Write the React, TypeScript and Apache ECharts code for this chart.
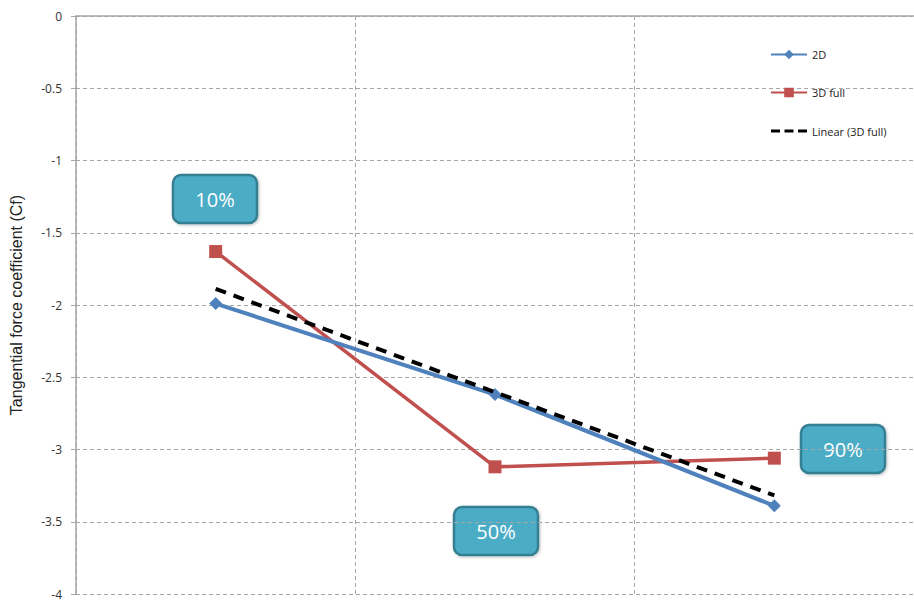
import React, { useEffect, useRef } from "react";
import * as echarts from "echarts";

// Chord positions along the blade (category axis)
const categories = ["10%", "50%", "90%"];
// Tangential force coefficient per section
const series2D = [-1.99, -2.62, -3.39];
const series3DFull = [-1.63, -3.12, -3.06];
// Y-axis ticks
const yTicks = [0, -0.5, -1, -1.5, -2, -2.5, -3, -3.5, -4];

// Least-squares linear trend of the 3D full series over x = 1..n
function linearTrend(values: number[]): number[] {
  const n = values.length;
  const xs = values.map((_, i) => i + 1);
  const mx = xs.reduce((a, b) => a + b, 0) / n;
  const my = values.reduce((a, b) => a + b, 0) / n;
  let num = 0;
  let den = 0;
  xs.forEach((x, i) => {
    num += (x - mx) * (values[i] - my);
    den += (x - mx) * (x - mx);
  });
  const slope = num / den;
  return xs.map((x) => +(my + slope * (x - mx)).toFixed(4));
}

const FONT = "'Open Sans', 'Liberation Sans', sans-serif";
const ARIAL = "'Liberation Sans', Arial, sans-serif";

// Dashed-line legend glyph; the tiny corner specks fix its bounding box
const DASH_ICON =
  "path://M0,4.5h9v3h-9z M13.5,4.5h9v3h-9z M27,4.5h9v3h-9z M0,0h0.01v0.01h-0.01z M36,12h-0.01v-0.01h0.01z";

export default function App() {
  const ref = useRef<HTMLDivElement>(null);

  useEffect(() => {
    if (!ref.current) return;
    const chart = echarts.init(ref.current, undefined, { renderer: "svg" });
    const trend = linearTrend(series3DFull);

    const box = (label: string, cx: number, cy: number) => ({
      type: "group",
      x: cx - 42,
      y: cy - 24,
      children: [
        {
          type: "rect",
          shape: { x: 0, y: 0, width: 84, height: 48, r: 8 },
          style: {
            fill: "#4BACC6",
            stroke: "#357F92",
            lineWidth: 2.5,
            shadowBlur: 3,
            shadowColor: "rgba(0,0,0,0.25)",
            shadowOffsetX: 1,
            shadowOffsetY: 1,
          },
        },
        {
          type: "text",
          x: 42,
          y: 24,
          style: {
            text: label,
            fill: "#ffffff",
            font: `20px ${FONT}`,
            align: "center",
            verticalAlign: "middle",
          },
        },
      ],
    });

    chart.setOption({
      animation: false,
      backgroundColor: "#ffffff",
      grid: { left: 74, top: 16, width: 847, height: 579, containLabel: false },
      legend: {
        orient: "vertical",
        left: 765,
        top: 44,
        itemWidth: 36,
        itemHeight: 12,
        itemGap: 27,
        textStyle: { fontSize: 11, color: "#222", fontFamily: FONT },
        data: [
          { name: "2D" },
          { name: "3D full" },
          { name: "Linear (3D full)", icon: DASH_ICON, itemStyle: { color: "#000" } },
        ],
      },
      xAxis: {
        type: "category",
        position: "top",
        data: categories,
        boundaryGap: true,
        axisLine: { show: true, lineStyle: { color: "#a6a6a6", width: 1.5 } },
        axisTick: { show: false },
        axisLabel: { show: false },
        splitLine: {
          show: true,
          lineStyle: { color: "#a6a6a6", type: [4, 3], width: 1 },
        },
      },
      yAxis: {
        type: "value",
        min: -4,
        max: 0,
        interval: 0.5,
        name: "Tangential force coefficient (Cf)",
        nameLocation: "middle",
        nameGap: 52,
        nameTextStyle: { fontSize: 16, color: "#222", fontFamily: ARIAL },
        axisLine: { show: true, lineStyle: { color: "#a6a6a6", width: 1.5 } },
        axisTick: { show: true, length: 5, lineStyle: { color: "#a6a6a6" } },
        axisLabel: {
          margin: 14,
          fontSize: 12,
          color: "#333",
          fontFamily: FONT,
          formatter: (v: number) => (yTicks.includes(v) ? String(v) : ""),
        },
        splitLine: {
          show: true,
          lineStyle: { color: "#a6a6a6", type: [4, 3], width: 1 },
        },
      },
      series: [
        {
          name: "2D",
          type: "line",
          data: series2D,
          symbol: "diamond",
          symbolSize: 13,
          lineStyle: { color: "#4F81BD", width: 4 },
          itemStyle: { color: "#4F81BD" },
          z: 3,
        },
        {
          name: "3D full",
          type: "line",
          data: series3DFull,
          symbol: "rect",
          symbolSize: 13,
          lineStyle: { color: "#C0504D", width: 3.5 },
          itemStyle: { color: "#C0504D" },
          z: 2,
        },
        {
          name: "Linear (3D full)",
          type: "line",
          data: trend,
          symbol: "none",
          lineStyle: { color: "#000000", width: 4, type: [11, 8] },
          itemStyle: { color: "#000000" },
          z: 4,
        },
      ],
      graphic: [
        box(categories[0], 215, 199),
        box(categories[1], 496, 531),
        box(categories[2], 843, 449),
      ],
    });

    return () => chart.dispose();
  }, []);

  return (
    <div
      ref={ref}
      style={{ position: "fixed", left: 0, top: 0, width: 914, height: 600 }}
    />
  );
}
